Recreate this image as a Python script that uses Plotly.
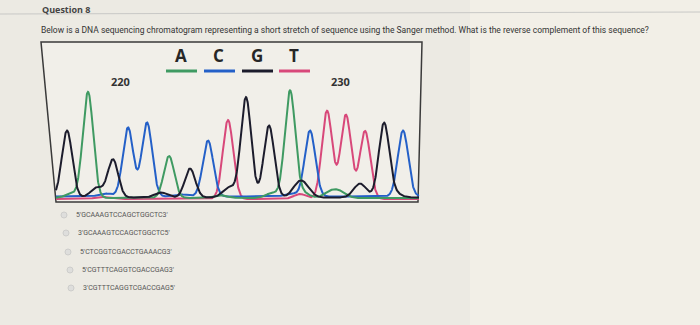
import numpy as np
import plotly.graph_objects as go

# ---------------- data ----------------
# base calls: scan position, base, peak height
peak_pos = [26, 47, 72, 87, 106, 128, 149, 167, 187, 205, 228, 249, 269, 286, 305, 324, 343, 362]
peak_base = ["G", "A", "G", "C", "C", "A", "G", "C", "T", "G", "G", "A", "C", "T", "T", "T", "G", "C"]
peak_height = [67, 106, 38, 69, 74, 42, 29, 56, 79, 100, 72, 107, 66, 88, 82, 68, 74, 66]

# minor (secondary) signal bumps per channel: scan position, height
minor_pos = {
    "A": [30, 179, 231, 262, 289, 299],
    "C": [64, 140, 250],
    "G": [56, 120, 188, 257, 264, 319, 354],
    "T": [60, 259, 300],
}
minor_height = {
    "A": [4, 3, 5, 5, 6, 6],
    "C": [3, 2, 3],
    "G": [10, 5, 10, 11, 9, 14, 4],
    "T": [2, 5, 3],
}
baseline = {"A": 1.0, "C": 2.5, "G": 1.5, "T": 0.0}

bases = ["A", "C", "G", "T"]
colors = {"A": "#3f9a62", "C": "#2460c8", "G": "#1c1c2c", "T": "#d8487a"}

position_labels = ["220", "230"]
position_label_x = [79, 299]

question_title = "Question 8"
question_text = ("Below is a DNA sequencing chromatogram representing a short stretch of sequence "
                 "using the Sanger method. What is the reverse complement of this sequence?")
options = [
    "5'GCAAAGTCCAGCTGGCTC3'",
    "3'GCAAAGTCCAGCTGGCTC5'",
    "5'CTCGGTCGACCTGAAACG3'",
    "5'CGTTTCAGGTCGACCGAG3'",
    "3'CGTTTCAGGTCGACCGAG5'",
]

# ---------------- build figure ----------------
W, H = 700, 325
SIGMA = 5.2
x_scan = np.linspace(15, 378, 1600)


def px(x):
    return x / W


def py(y):
    return 1 - y / H


fig = go.Figure()

# draw order: T, C, A, G (black on top)
for b in ["T", "C", "A", "G"]:
    y = np.full_like(x_scan, baseline[b])
    for p, bb, h in zip(peak_pos, peak_base, peak_height):
        if bb == b:
            y = y + h * np.exp(-((x_scan - p) ** 2) / (2 * SIGMA ** 2))
    for p, h in zip(minor_pos[b], minor_height[b]):
        y = y + h * np.exp(-((x_scan - p) ** 2) / (2 * (SIGMA * 1.2) ** 2))
    fig.add_trace(go.Scatter(x=x_scan, y=y, mode="lines",
                             line=dict(color=colors[b], width=2),
                             hoverinfo="skip", showlegend=False))

fig.update_layout(
    width=W, height=H,
    margin=dict(l=0, r=0, t=0, b=0),
    paper_bgcolor="rgb(236,234,227)",
    plot_bgcolor="rgba(0,0,0,0)",
    xaxis=dict(domain=[41 / W, 422 / W], range=[0, 381], visible=False, fixedrange=True),
    yaxis=dict(domain=[py(202), py(42)], range=[-3, 157], visible=False, fixedrange=True),
    showlegend=False,
)

shapes = []
# light tint at right to mimic photo lighting
shapes.append(dict(type="rect", xref="paper", yref="paper", x0=px(470), x1=1, y0=0, y1=1,
                   fillcolor="rgba(250,246,236,0.45)", line=dict(width=0), layer="below"))
# separator line under the question header
shapes.append(dict(type="line", xref="paper", yref="paper", x0=0, x1=1, y0=py(14), y1=py(12),
                   line=dict(color="rgb(200,200,198)", width=1)))
# chromatogram frame (slight perspective)
shapes.append(dict(type="path", xref="paper", yref="paper",
                   path=f"M {px(41)},{py(42)} L {px(422)},{py(42)} L {px(418)},{py(202)} L {px(56)},{py(202)} Z",
                   fillcolor="rgb(241,239,233)", line=dict(color="#3a3a3a", width=1.5), layer="below"))

# legend letters with coloured underlines
letter_x = [181, 219, 257, 294]
for b, lx in zip(bases, letter_x):
    fig.add_annotation(x=px(lx), y=py(55), xref="paper", yref="paper", text=f"<b>{b}</b>",
                       showarrow=False, font=dict(family="Open Sans", size=17, color="#262626"),
                       xanchor="center", yanchor="middle")
    shapes.append(dict(type="line", xref="paper", yref="paper", x0=px(lx - 15), x1=px(lx + 16),
                       y0=py(71), y1=py(71), line=dict(color=colors[b], width=3)))

# position labels (in scan units on the x axis)
for lab, lx in zip(position_labels, position_label_x):
    fig.add_annotation(x=lx, y=py(81), xref="x", yref="paper", text=f"<b>{lab}</b>",
                       showarrow=False, font=dict(family="Open Sans", size=11, color="#333333"),
                       xanchor="center", yanchor="middle")

# header texts
fig.add_annotation(x=px(40), y=py(1), xref="paper", yref="paper", text=f"<b>{question_title}</b>",
                   showarrow=False, font=dict(family="Open Sans", size=9, color="#444444"),
                   xanchor="left", yanchor="top")
fig.add_annotation(x=px(39), y=py(30), xref="paper", yref="paper", text=question_text,
                   showarrow=False, font=dict(family="Roboto", size=8.5, color="#333333"),
                   xanchor="left", yanchor="middle")

# answer options
opt_y = [215, 233, 252, 270, 288]
opt_x = [74, 76, 78, 80, 81]
for t, oy, ox in zip(options, opt_y, opt_x):
    shapes.append(dict(type="circle", xref="paper", yref="paper",
                       x0=px(ox - 13), x1=px(ox - 7), y0=py(oy + 3), y1=py(oy - 3),
                       fillcolor="rgb(222,222,220)", line=dict(color="rgb(205,205,203)", width=1)))
    fig.add_annotation(x=px(ox), y=py(oy), xref="paper", yref="paper", text=t,
                       showarrow=False, font=dict(family="Roboto", size=7, color="#555555"),
                       xanchor="left", yanchor="middle")

fig.update_layout(shapes=shapes)
fig.write_html("out.html")
